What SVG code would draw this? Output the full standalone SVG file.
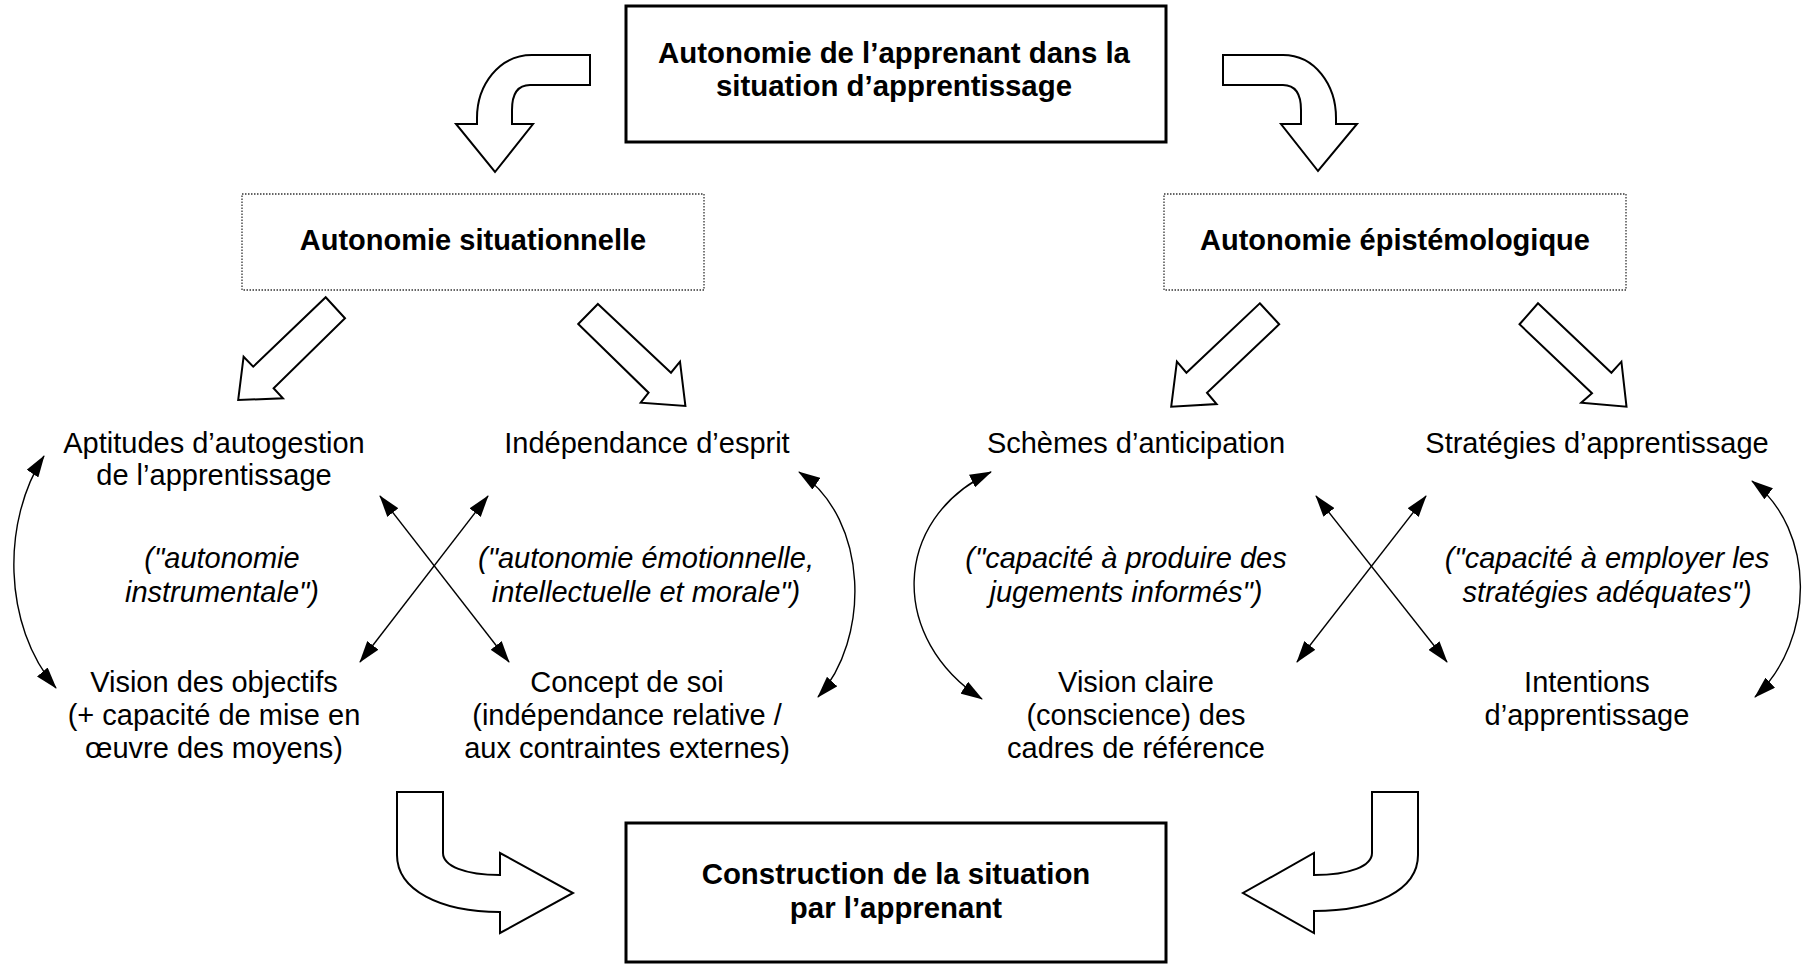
<svg xmlns="http://www.w3.org/2000/svg" width="1807" height="964" viewBox="0 0 1807 964">
  <style>
    text { font-family: "Liberation Sans", Arial, sans-serif; font-size: 29px; fill: #000; text-anchor: middle; }
    .b { font-weight: bold; }
    .t { font-size: 29.4px; }
    .i { font-style: italic; }
    .box { fill: #fff; stroke: #000; stroke-width: 3; }
    .dot { fill: #fff; stroke: #333; stroke-width: 1.3; stroke-dasharray: 1.5 1.5; }
    .blk { fill: #fff; stroke: #000; stroke-width: 2; stroke-linejoin: miter; }
    .ln { fill: none; stroke: #000; stroke-width: 1.4; marker-start: url(#ah); marker-end: url(#ah); }
  </style>
  <defs>
    <marker id="ah" markerUnits="userSpaceOnUse" viewBox="0 0 22 14" refX="21" refY="7" markerWidth="22" markerHeight="14" orient="auto-start-reverse">
      <path d="M0,0 L22,7 L0,14 Z" fill="#000"/>
    </marker>
  </defs>
  <rect width="1807" height="964" fill="#fff"/>

  <g id="connectors">
    <!-- block arrows -->
    <path class="blk" d="M 590,55 L 532,55 C 499,55 477,85 477,118 L 477,124 L 456,124 L 495,172 L 533,124 L 512,124 L 512,110 C 512,95 517,85 530,85 L 590,85 Z"/>
    <path class="blk" d="M 1223,55 L 1283,55 C 1315,55 1336,85 1336,118 L 1336,124 L 1357,124 L 1318,171 L 1281,124 L 1301,124 L 1301,110 C 1301,95 1296,85 1283,85 L 1223,85 Z"/>
    <polygon class="blk" points="325.7,297.3 345,318.3 273.6,388.3 282.9,398.3 238.2,400 243.6,356.7 253.2,366.7"/>
    <polygon class="blk" points="597.9,304 671,372.7 680,361.7 685.4,406 640.7,402.7 648.6,392.7 578.2,324"/>
    <polygon class="blk" points="1259.8,303.3 1279.2,324.3 1207,392.7 1216.6,404 1171.2,406.7 1176.9,361.7 1186.4,372.7"/>
    <polygon class="blk" points="1538,303.3 1611.4,372.7 1621.4,361.7 1626.5,406.7 1581.2,402.7 1592,393.3 1519.5,324.3"/>
    <path class="blk" d="M 397,792 L 443,792 L 443,853 C 443,866 465,875 500,875 L 500,853 L 573,893 L 500,933 L 500,912 C 440,912 397,890 397,855 Z"/>
    <path class="blk" d="M 1418,792 L 1372,792 L 1372,853 C 1372,866 1350,875 1314,875 L 1314,853 L 1243,893 L 1314,933 L 1314,911 C 1375,911 1418,890 1418,855 Z"/>
    <!-- thin double-headed connectors -->
    <path class="ln" d="M 44,456 C 2,520 2,625 56,688"/>
    <path class="ln" d="M 799,472 C 870,520 870,640 818,697"/>
    <path class="ln" d="M 380,496 L 509,662"/>
    <path class="ln" d="M 488,496 L 360,662"/>
    <path class="ln" d="M 991,472 C 890,520 890,640 982,699"/>
    <path class="ln" d="M 1752,481 C 1816,530 1816,640 1755,697"/>
    <path class="ln" d="M 1316,496 L 1447,662"/>
    <path class="ln" d="M 1426,496 L 1297,662"/>
  </g>

  <g id="n-top">
    <rect class="box" x="626" y="6" width="540" height="136"/>
    <text class="b t" x="894" y="63">Autonomie de l’apprenant dans la</text>
    <text class="b t" x="894" y="96">situation d’apprentissage</text>
  </g>

  <g id="n-situationnelle">
    <rect class="dot" x="242" y="194" width="462" height="96"/>
    <text class="b" x="473" y="250">Autonomie situationnelle</text>
  </g>

  <g id="n-epistemologique">
    <rect class="dot" x="1164" y="194" width="462" height="96"/>
    <text class="b" x="1395" y="250">Autonomie épistémologique</text>
  </g>

  <g id="n-aptitudes">
    <text x="214" y="453">Aptitudes d’autogestion</text>
    <text x="214" y="485">de l’apprentissage</text>
  </g>
  <g id="n-independance">
    <text x="647" y="453">Indépendance d’esprit</text>
  </g>
  <g id="n-instrumentale">
    <text class="i" x="222" y="568">("autonomie</text>
    <text class="i" x="222" y="602">instrumentale")</text>
  </g>
  <g id="n-emotionnelle">
    <text class="i" x="646" y="568">("autonomie émotionnelle,</text>
    <text class="i" x="646" y="602">intellectuelle et morale")</text>
  </g>
  <g id="n-vision-objectifs">
    <text x="214" y="692">Vision des objectifs</text>
    <text x="214" y="725">(+ capacité de mise en</text>
    <text x="214" y="758">œuvre des moyens)</text>
  </g>
  <g id="n-concept-soi">
    <text x="627" y="692">Concept de soi</text>
    <text x="627" y="725">(indépendance relative /</text>
    <text x="627" y="758">aux contraintes externes)</text>
  </g>

  <g id="n-schemes">
    <text x="1136" y="453">Schèmes d’anticipation</text>
  </g>
  <g id="n-strategies">
    <text x="1597" y="453">Stratégies d’apprentissage</text>
  </g>
  <g id="n-jugements">
    <text class="i" x="1126" y="568">("capacité à produire des</text>
    <text class="i" x="1126" y="602">jugements informés")</text>
  </g>
  <g id="n-employer">
    <text class="i" x="1607" y="568">("capacité à employer les</text>
    <text class="i" x="1607" y="602">stratégies adéquates")</text>
  </g>
  <g id="n-vision-claire">
    <text x="1136" y="692">Vision claire</text>
    <text x="1136" y="725">(conscience) des</text>
    <text x="1136" y="758">cadres de référence</text>
  </g>
  <g id="n-intentions">
    <text x="1587" y="692">Intentions</text>
    <text x="1587" y="725">d’apprentissage</text>
  </g>

  <g id="n-construction">
    <rect class="box" x="626" y="823" width="540" height="139"/>
    <text class="b t" x="896" y="884">Construction de la situation</text>
    <text class="b t" x="896" y="918">par l’apprenant</text>
  </g>
</svg>
